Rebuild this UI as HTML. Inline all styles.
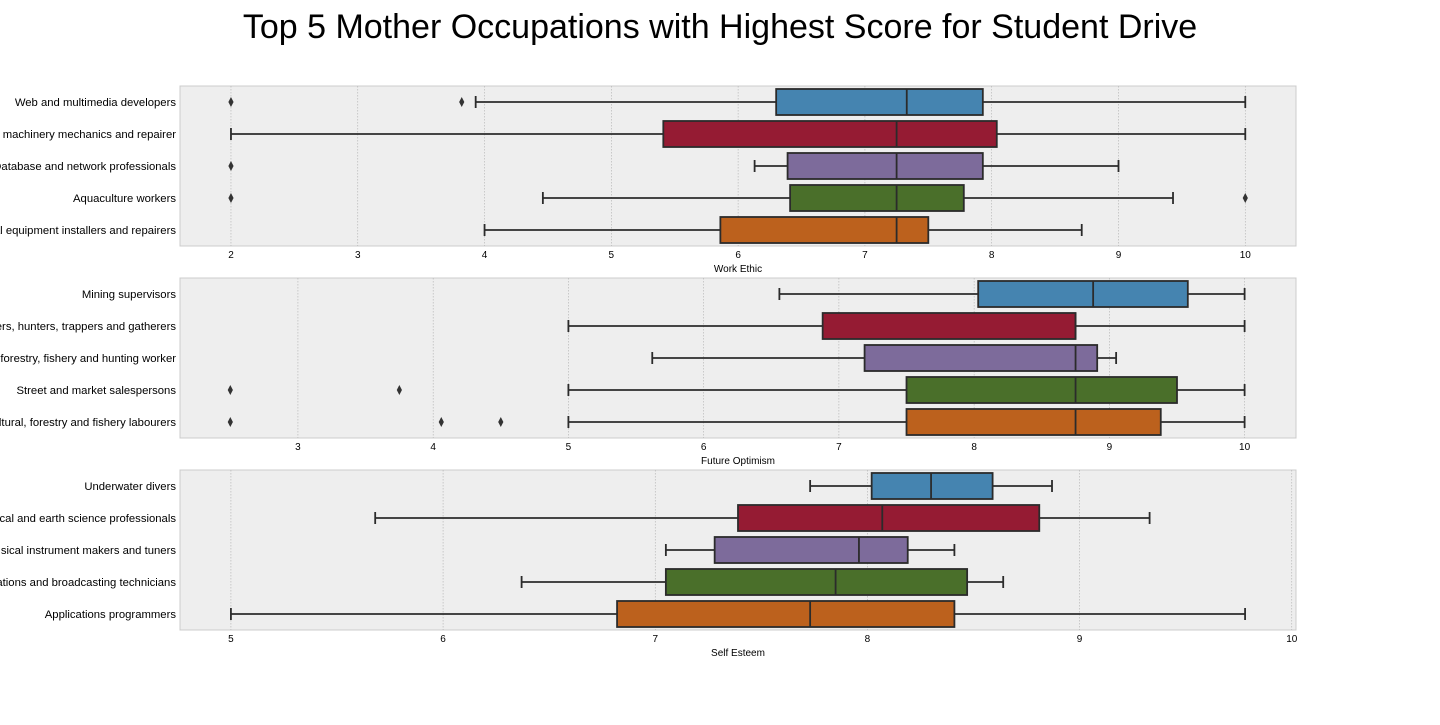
<!DOCTYPE html>
<html><head><meta charset="utf-8"><style>
body{margin:0;background:#fff;width:1440px;height:720px;overflow:hidden;font-family:"Liberation Sans",sans-serif}
</style></head><body>
<svg id="chart" width="1440" height="720" font-family="Liberation Sans, sans-serif">
<text x="720" y="38" text-anchor="middle" font-size="34" fill="#000">Top 5 Mother Occupations with Highest Score for Student Drive</text>
</svg>
<script>
const colors=["#4584b0","#951b33","#7d6b9b","#4a6f2a","#bc611d"];
const p1Labels=["Web and multimedia developers","Metal working machinery mechanics and repairer","Database and network professionals","Aquaculture workers","Electrical equipment installers and repairers"];
const p1Stats=[[3.93,6.30,7.33,7.93,10],[2,5.41,7.25,8.04,10],[6.13,6.39,7.25,7.93,9.0],[4.46,6.41,7.25,7.78,9.43],[4.0,5.86,7.25,7.5,8.71]];
const p1Fliers=[[2,3.82],[],[2],[2,10],[]];
const p1Ticks=[2,3,4,5,6,7,8,9,10];
const p2Labels=["Mining supervisors","Subsistence farmers, hunters, trappers and gatherers","Market-oriented skilled forestry, fishery and hunting worker","Street and market salespersons","Agricultural, forestry and fishery labourers"];
const p2Stats=[[6.56,8.03,8.88,9.58,10],[5.0,6.88,8.75,8.75,10],[5.62,7.19,8.75,8.91,9.05],[5,7.5,8.75,9.5,10],[5,7.5,8.75,9.38,10]];
const p2Fliers=[[],[],[],[2.5,3.75],[2.5,4.06,4.5]];
const p2Ticks=[3,4,5,6,7,8,9,10];
const p3Labels=["Underwater divers","Physical and earth science professionals","Musical instrument makers and tuners","Telecommunications and broadcasting technicians","Applications programmers"];
const p3Stats=[[7.73,8.02,8.30,8.59,8.87],[5.68,7.39,8.07,8.81,9.33],[7.05,7.28,7.96,8.19,8.41],[6.37,7.05,7.85,8.47,8.64],[5,6.82,7.73,8.41,9.78]];
const p3Fliers=[[],[],[],[],[]];
const p3Ticks=[5,6,7,8,9,10];
const NS="http://www.w3.org/2000/svg";
const svg=document.getElementById('chart');
function el(tag,attrs,parent){const e=document.createElementNS(NS,tag);for(const k in attrs)e.setAttribute(k,attrs[k]);(parent||svg).appendChild(e);return e;}
function panel(idx,top,xmin,xmax,labels,stats,fliers,ticks,title){
  const L=180,R=1296,H=160;
  const g=el('g',{});
  
  
  const x=v=>L+(v-xmin)/(xmax-xmin)*(R-L);
  const y=i=>top+16+i*32;
  const bg=el('rect',{x:L,y:top,width:R-L,height:H,fill:"#eeeeee",stroke:"#cccccc"},g);
  
  
  ticks.forEach(t=>{
    const gl=el('line',{x1:x(t),x2:x(t),y1:top,y2:top+H,stroke:"#b0b0b0","stroke-width":0.6,"stroke-dasharray":"1.5,1.5"},g);
    
    
    const tl=el('text',{x:x(t),y:top+H+12,"text-anchor":"middle","font-size":10,fill:"#000"},g);
    tl.textContent=t;
    
    
  });
  const at=el('text',{x:(L+R)/2,y:top+H+26,"text-anchor":"middle","font-size":10,fill:"#000"},g);
  at.textContent=title;
  
  
  labels.forEach((lb,i)=>{
    const t=el('text',{x:176,y:y(i)+4,"text-anchor":"end","font-size":11.3,fill:"#000"},g);
    t.textContent=lb;
    
    
  });
  stats.forEach((s,i)=>{
    const [wl,q1,md,q3,wh]=s,cy=y(i),st="#2b2b2b";
    const b=el('g',{},g);
    
    
    el('line',{x1:x(wl),x2:x(q1),y1:cy,y2:cy,stroke:st,"stroke-width":1.8},b);
    el('line',{x1:x(q3),x2:x(wh),y1:cy,y2:cy,stroke:st,"stroke-width":1.8},b);
    el('line',{x1:x(wl),x2:x(wl),y1:cy-6,y2:cy+6,stroke:st,"stroke-width":1.8},b);
    el('line',{x1:x(wh),x2:x(wh),y1:cy-6,y2:cy+6,stroke:st,"stroke-width":1.8},b);
    el('rect',{x:x(q1),y:cy-13,width:x(q3)-x(q1),height:26,fill:colors[i],stroke:st,"stroke-width":1.8},b);
    el('line',{x1:x(md),x2:x(md),y1:cy-13,y2:cy+13,stroke:st,"stroke-width":1.8},b);
    fliers[i].forEach(f=>{
      const d=el('path',{d:`M${x(f)},${cy-5} L${x(f)+2.6},${cy} L${x(f)},${cy+5} L${x(f)-2.6},${cy} Z`,fill:"#333"},g);
      
      
    });
  });
}
panel(1,86,1.598,10.40,p1Labels,p1Stats,p1Fliers,p1Ticks,"Work Ethic");
panel(2,278,2.128,10.38,p2Labels,p2Stats,p2Fliers,p2Ticks,"Future Optimism");
panel(3,470,4.76,10.02,p3Labels,p3Stats,p3Fliers,p3Ticks,"Self Esteem");
</script>
</body></html>
